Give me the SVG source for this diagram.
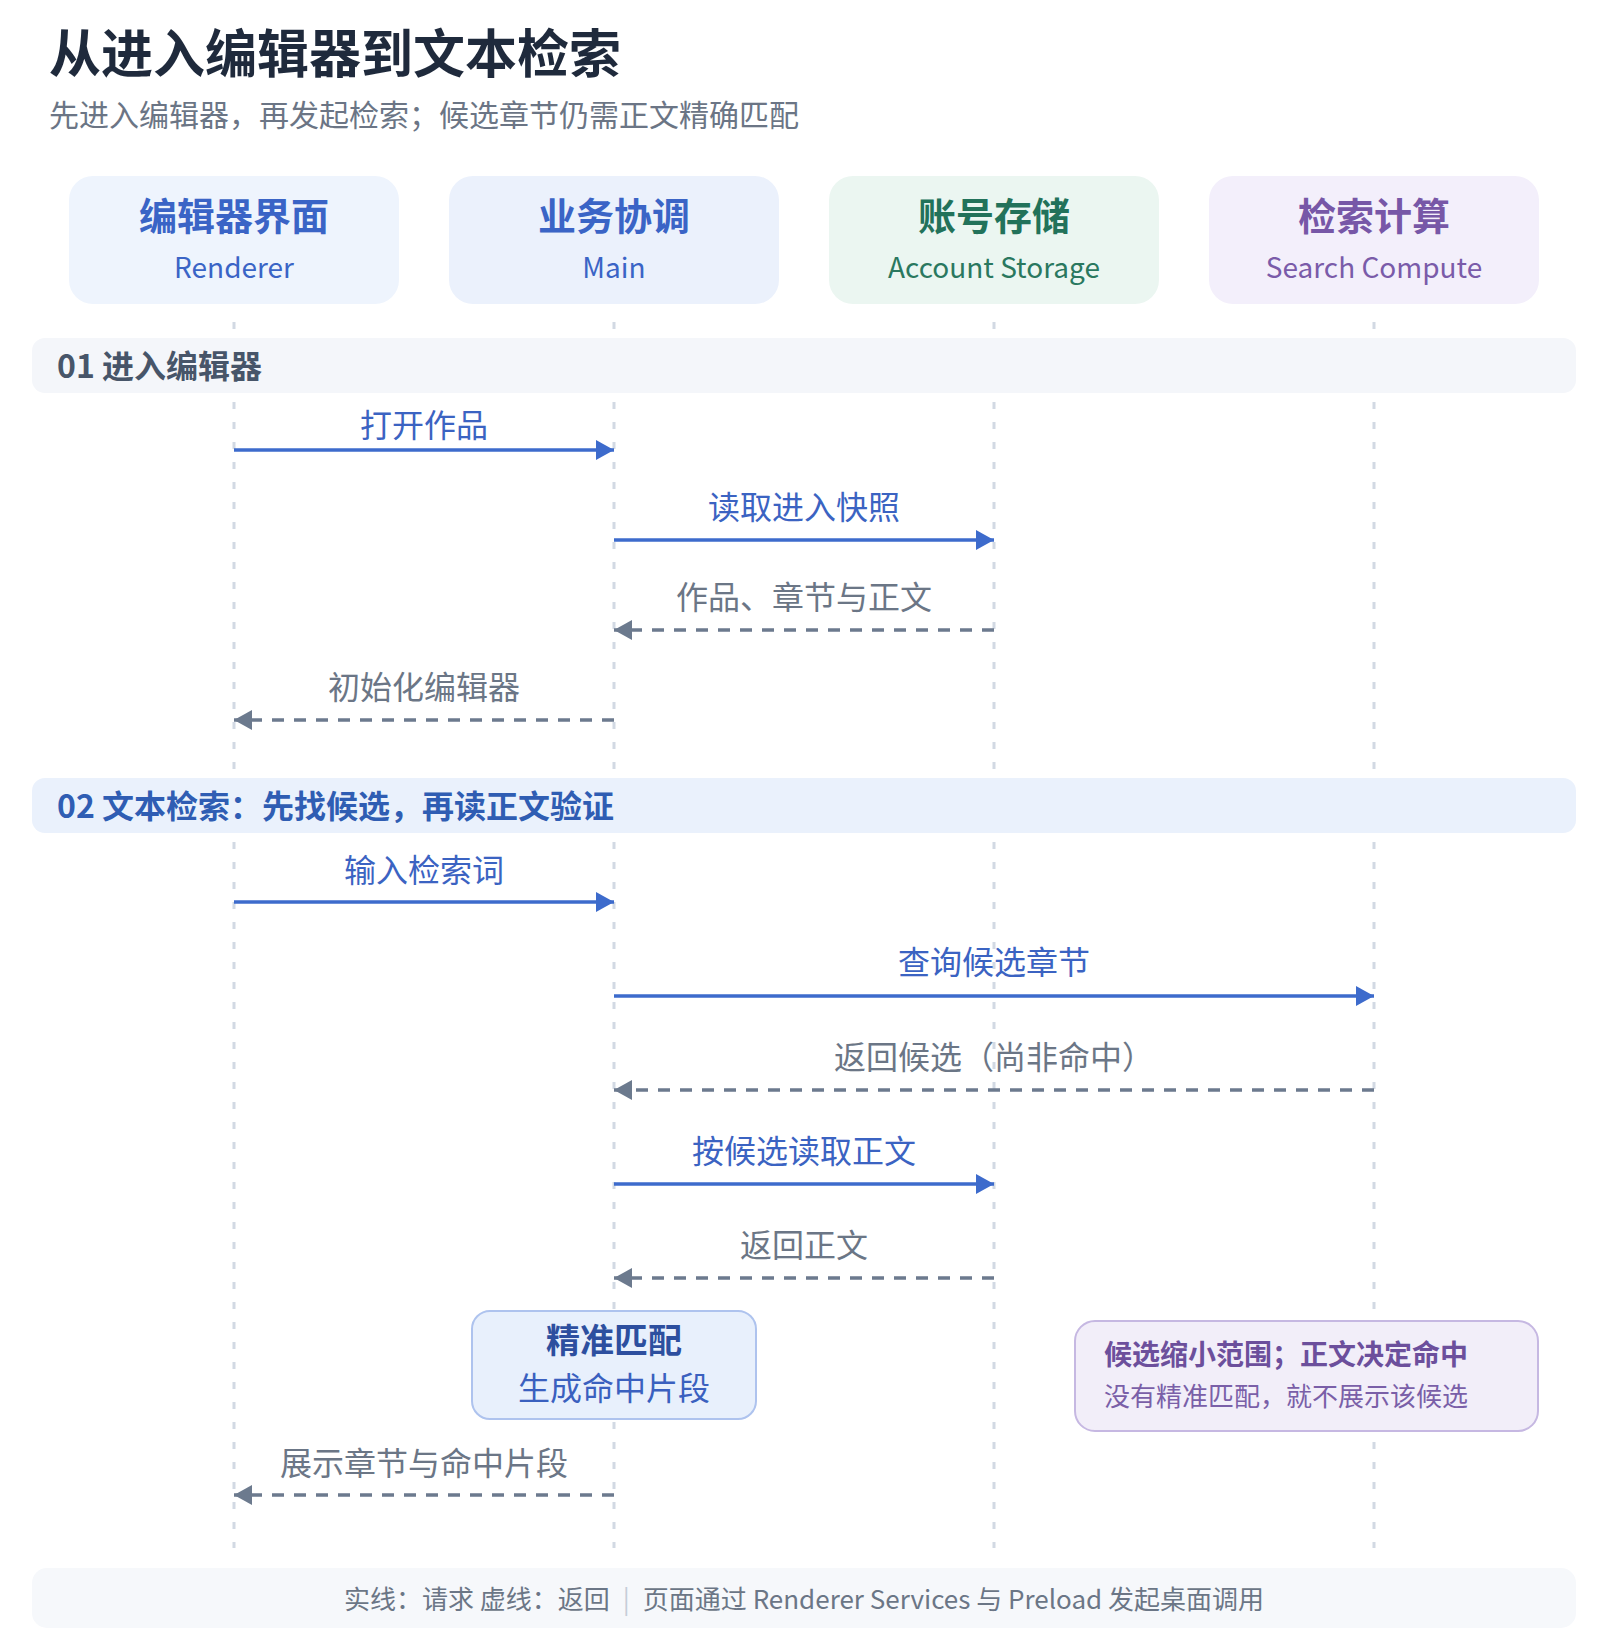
<svg xmlns="http://www.w3.org/2000/svg" width="1608" height="1648" viewBox="0 0 1608 1648">
<defs>
<style>
text{font-family:"Noto Sans CJK SC","Noto Sans",sans-serif;}
.title{font-size:52px;font-weight:700;fill:#1f2a3c;}
.subtitle{font-size:30px;fill:#6b7585;}
.ht{font-size:38px;font-weight:700;text-anchor:middle;}
.hs{font-size:28px;text-anchor:middle;}
.sec{font-size:32px;font-weight:700;}
.lbl{font-size:32px;text-anchor:middle;}
.req{fill:#3b63c2;}
.ret{fill:#6b7686;}
.life{stroke:#d2d9e3;stroke-width:3;stroke-dasharray:7 13;fill:none;}
.sl{stroke:#3d6bcc;stroke-width:3.3;fill:none;}
.dl{stroke:#6c7a8e;stroke-width:3.3;stroke-dasharray:12 10;fill:none;}
</style>
<marker id="ah" markerUnits="userSpaceOnUse" markerWidth="20" markerHeight="20" refX="18" refY="10" orient="auto"><path d="M0,0 L18,10 L0,20 Z" fill="#3d6bcc"/></marker>
<marker id="ahd" markerUnits="userSpaceOnUse" markerWidth="20" markerHeight="20" refX="18" refY="10" orient="auto"><path d="M0,0 L18,10 L0,20 Z" fill="#6c7a8e"/></marker>
</defs>
<rect width="1608" height="1648" fill="#ffffff"/>
<g id="header">
<text class="title" x="49" y="73">从进入编辑器到文本检索</text>
<text class="subtitle" x="49" y="126">先进入编辑器，再发起检索；候选章节仍需正文精确匹配</text>
</g>
<g id="lifelines">
<line class="life" x1="234" y1="322" x2="234" y2="1548"/>
<line class="life" x1="614" y1="322" x2="614" y2="1548"/>
<line class="life" x1="994" y1="322" x2="994" y2="1548"/>
<line class="life" x1="1374" y1="322" x2="1374" y2="1548"/>
</g>
<g id="p-renderer">
<rect x="69" y="176" width="330" height="128" rx="24" fill="#eef4fd"/>
<text class="ht" x="234" y="230" fill="#3a64c6">编辑器界面</text>
<text class="hs" x="234" y="278" fill="#3a64c6">Renderer</text>
</g>
<g id="p-main">
<rect x="449" y="176" width="330" height="128" rx="24" fill="#ebf1fc"/>
<text class="ht" x="614" y="230" fill="#3a64c6">业务协调</text>
<text class="hs" x="614" y="278" fill="#3a64c6">Main</text>
</g>
<g id="p-storage">
<rect x="829" y="176" width="330" height="128" rx="24" fill="#ebf6f1"/>
<text class="ht" x="994" y="230" fill="#22725a">账号存储</text>
<text class="hs" x="994" y="278" fill="#2a785f">Account Storage</text>
</g>
<g id="p-search">
<rect x="1209" y="176" width="330" height="128" rx="24" fill="#f3effb"/>
<text class="ht" x="1374" y="230" fill="#7757a7">检索计算</text>
<text class="hs" x="1374" y="278" fill="#7a5ba9">Search Compute</text>
</g>
<g id="section-1">
<rect x="32" y="338" width="1544" height="55" rx="13" fill="#f4f6fa"/>
<text class="sec" x="57" y="378" fill="#475569">01 进入编辑器</text>
</g>
<g id="section-2">
<rect x="32" y="778" width="1544" height="55" rx="13" fill="#eaf1fc"/>
<text class="sec" x="57" y="818" fill="#2f5db3">02 文本检索：先找候选，再读正文验证</text>
</g>
<g id="connectors">
<line class="sl" x1="234" y1="450" x2="614" y2="450" marker-end="url(#ah)"/>
<text class="lbl req" x="424" y="437">打开作品</text>
<line class="sl" x1="614" y1="540" x2="994" y2="540" marker-end="url(#ah)"/>
<text class="lbl req" x="804" y="519">读取进入快照</text>
<line class="dl" x1="994" y1="630" x2="614" y2="630" marker-end="url(#ahd)"/>
<text class="lbl ret" x="804" y="609">作品、章节与正文</text>
<line class="dl" x1="614" y1="720" x2="234" y2="720" marker-end="url(#ahd)"/>
<text class="lbl ret" x="424" y="699">初始化编辑器</text>
<line class="sl" x1="234" y1="902" x2="614" y2="902" marker-end="url(#ah)"/>
<text class="lbl req" x="424" y="882">输入检索词</text>
<line class="sl" x1="614" y1="996" x2="1374" y2="996" marker-end="url(#ah)"/>
<text class="lbl req" x="994" y="974">查询候选章节</text>
<line class="dl" x1="1374" y1="1090" x2="614" y2="1090" marker-end="url(#ahd)"/>
<text class="lbl ret" x="994" y="1069">返回候选（尚非命中）</text>
<line class="sl" x1="614" y1="1184" x2="994" y2="1184" marker-end="url(#ah)"/>
<text class="lbl req" x="804" y="1163">按候选读取正文</text>
<line class="dl" x1="994" y1="1278" x2="614" y2="1278" marker-end="url(#ahd)"/>
<text class="lbl ret" x="804" y="1257">返回正文</text>
<line class="dl" x1="614" y1="1495" x2="234" y2="1495" marker-end="url(#ahd)"/>
<text class="lbl ret" x="424" y="1475">展示章节与命中片段</text>
</g>
<g id="note-match">
<rect x="472" y="1311" width="284" height="108" rx="18" fill="#e8f0fc" stroke="#aec3ee" stroke-width="2"/>
<text x="614" y="1353" text-anchor="middle" font-size="34" font-weight="700" fill="#2d4f9f">精准匹配</text>
<text x="614" y="1400" text-anchor="middle" font-size="32" fill="#3a60bf">生成命中片段</text>
</g>
<g id="note-candidate">
<rect x="1075" y="1321" width="463" height="110" rx="20" fill="#f2eef9" stroke="#c6b8e2" stroke-width="2"/>
<text x="1104" y="1365" font-size="28" font-weight="700" fill="#6c4f9c">候选缩小范围；正文决定命中</text>
<text x="1104" y="1406" font-size="26" fill="#7a5fa8">没有精准匹配，就不展示该候选</text>
</g>
<g id="footer">
<rect x="32" y="1568" width="1544" height="60" rx="15" fill="#f6f8fb"/>
<text x="804" y="1609" text-anchor="middle" font-size="26" fill="#6b7686">实线：请求 虚线：返回<tspan fill="#c5cdd8" dx="13">|</tspan><tspan dx="13">页面通过 Renderer Services 与 Preload 发起桌面调用</tspan></text>
</g>
</svg>
